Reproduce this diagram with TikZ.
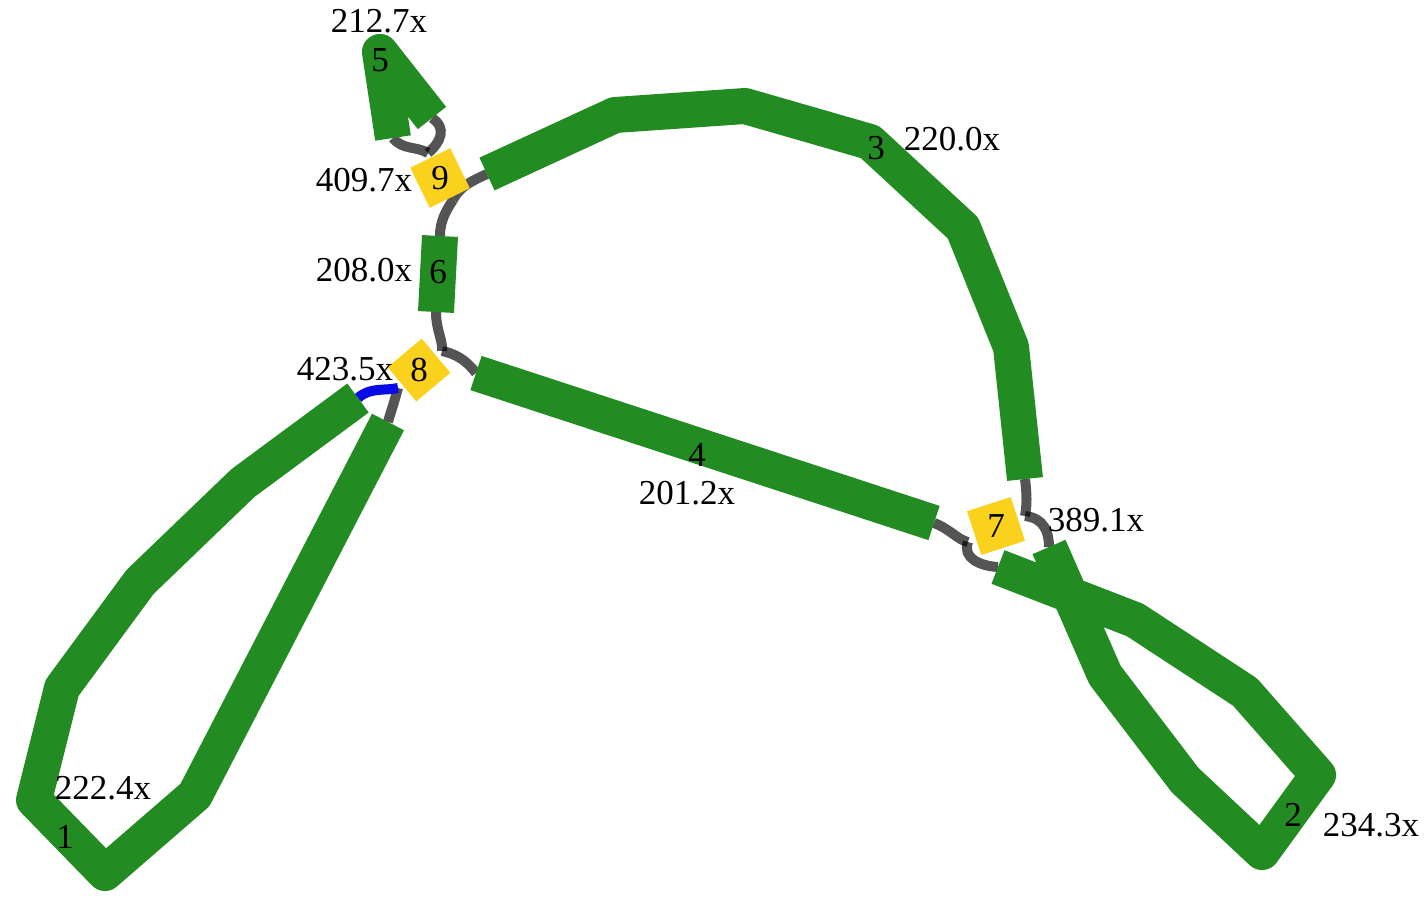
\documentclass[tikz,border=0pt]{standalone}
\usepackage{fontspec}
\setmainfont{Liberation Serif}
\usepackage{xcolor}
\usepackage{tikz}
\usetikzlibrary{shapes.geometric}
\definecolor{segGreen}{HTML}{228B22}
\definecolor{shortYellow}{HTML}{FAD11C}
\definecolor{linkBlue}{HTML}{0A0AE6}
\tikzstyle{segment} = [draw=segGreen, line width=36pt, line join=round, line cap=butt]
\tikzstyle{link} = [draw=black, opacity=0.67, line width=10pt]
\tikzstyle{bluelink} = [draw=linkBlue, line width=10pt]
\tikzstyle{shortnode} = [regular polygon, regular polygon sides=4, fill=shortYellow, minimum size=63pt, inner sep=0pt, text centered, font=\fontsize{35}{40}\selectfont]
\tikzstyle{nlabel} = [inner sep=0pt, font=\fontsize{35}{40}\selectfont]

\begin{document}
\begin{tikzpicture}[x=1pt, y=-1pt]
		\useasboundingbox (0,0) rectangle (1428,908);
		% segment ends and link ports
		\coordinate (s1a) at (388,422);
		\coordinate (s1b) at (358,398);
		\coordinate (s2a) at (998,567);
		\coordinate (s2b) at (1049,547);
		\coordinate (s3a) at (487,174);
		\coordinate (s3b) at (1025,479);
		\coordinate (s4a) at (476,373);
		\coordinate (s4b) at (934,523);
		\coordinate (s5a) at (393,138);
		\coordinate (s5b) at (432,118);
		\coordinate (s6a) at (440,236);
		\coordinate (s6b) at (436,312);
		\coordinate (p9a) at (428,153);
		\coordinate (p9b) at (453,200);
		\coordinate (p8a) at (442,351);
		\coordinate (p8b) at (398,388);
		\coordinate (p7a) at (1025,516);
		\coordinate (p7b) at (968,542);

		% links
		\draw[link] (s5a) .. controls (402,150) and (416,146) .. (p9a);
		\draw[link] (s5b) .. controls (447,128) and (441,142) .. (p9a);
		\draw[link] (p9b) .. controls (445,212) and (440,222) .. (s6a);
		\draw[link] (p9b) .. controls (460,186) and (472,181) .. (s3a);
		\draw[link] (s6b) .. controls (436,330) and (443,340) .. (p8a);
		\draw[link] (p8a) .. controls (456,354) and (466,360) .. (s4a);
		\draw[link] (p8b) .. controls (392,410) and (390,414) .. (s1a);
		\draw[bluelink] (p8b) .. controls (385,391) and (370,387) .. (s1b);
		\draw[link] (s3b) .. controls (1027,495) and (1027,505) .. (p7a);
		\draw[link] (p7a) .. controls (1044,518) and (1049,532) .. (s2b);
		\draw[link] (s4b) .. controls (950,529) and (958,540) .. (p7b);
		\draw[link] (p7b) .. controls (962,558) and (980,566) .. (s2a);

		% segments
		\draw[segment] (s1a) -- (195,795) -- (105,873) -- (34,800) -- (62,688) -- (140,582) -- (243,483) -- (s1b);
		\draw[segment] (s2a) -- (1135,620) -- (1245,692) -- (1318,775) -- (1262,852) -- (1185,780) -- (1105,675) -- (s2b);
		\draw[segment] (s3a) -- (615,115) -- (745,106) -- (870,142) -- (963,228) -- (1011,347) -- (s3b);
		\draw[segment] (s4a) -- (s4b);
		\draw[segment] (s5a) -- (380,52) -- (s5b);
		\draw[segment] (s6a) -- (s6b);

		% short nodes
		\node (n9) [shortnode, shape border rotate=26] at (440,178) {9};
		\node (n8) [shortnode, shape border rotate=40] at (419,370) {8};
		\node (n7) [shortnode, shape border rotate=18, minimum size=65pt] at (996,526) {7};

		% labels
		\node (t1) [nlabel] at (65,837) {1};
		\node (t2) [nlabel] at (1293,815) {2};
		\node (t3) [nlabel] at (876,148) {3};
		\node (t4) [nlabel] at (697,455) {4};
		\node (t5) [nlabel] at (380,60) {5};
		\node (t6) [nlabel] at (438,272) {6};
		\node (cov1) [nlabel] at (103,788) {222.4x};
		\node (cov2) [nlabel] at (1371,825) {234.3x};
		\node (cov3) [nlabel] at (952,139) {220.0x};
		\node (cov4) [nlabel] at (687,493) {201.2x};
		\node (cov5) [nlabel] at (379,21) {212.7x};
		\node (cov6) [nlabel] at (364,270) {208.0x};
		\node (cov7) [nlabel] at (1096,520) {389.1x};
		\node (cov8) [nlabel] at (345,369) {423.5x};
		\node (cov9) [nlabel] at (364,180) {409.7x};
	\end{tikzpicture}
\end{document}
